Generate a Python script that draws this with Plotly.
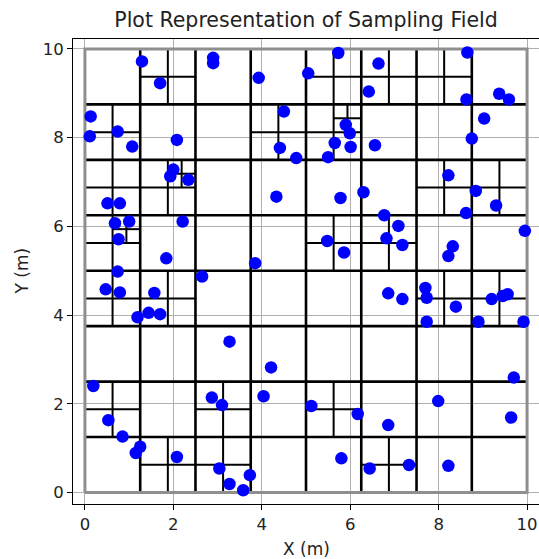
import plotly.graph_objects as go

# ---- data ----
field_size = 10.0
base_n = 8  # 8x8 base cells of 1.25 m
# base cells (i, j) split into 4 (i: x index, j: y index from bottom)
split_cells = [(1, 7), (4, 7), (5, 7), (6, 7),
               (0, 6), (3, 6), (4, 6),
               (0, 5), (1, 5), (6, 5), (7, 5),
               (0, 4), (4, 4), (5, 4),
               (0, 3), (1, 3), (6, 3), (7, 3),
               (0, 1), (2, 1), (4, 1),
               (1, 0), (2, 0), (5, 0)]
# second-level cells (16x16 index) split again
split_subcells = [(3, 11), (1, 9), (9, 13)]

sample_x = [1.29, 2.90, 2.90, 1.70, 3.93, 5.05, 0.13, 0.11, 0.74, 1.07,
            2.08, 4.50, 4.41, 4.78, 2.00, 1.93, 2.34, 4.33, 0.51, 0.79,
            0.68, 1.00, 0.76, 2.21, 1.84, 3.85, 0.74, 0.47, 0.79, 1.57,
            2.65, 1.19, 1.44, 1.70, 3.27, 4.21, 0.19, 2.87, 3.10, 4.04,
            0.53, 0.85, 1.25, 1.15, 2.08, 3.04, 3.73, 3.27, 3.58, 5.73,
            6.64, 6.42, 8.65, 8.63, 9.37, 9.59, 9.03, 5.90, 5.99, 5.65,
            6.01, 5.50, 6.56, 8.75, 8.22, 8.84, 9.30, 8.62, 5.78, 6.30,
            6.77, 7.09, 5.48, 6.82, 7.18, 5.86, 8.32, 8.22, 9.95, 6.86,
            7.18, 7.70, 7.73, 8.39, 9.20, 9.45, 9.56, 7.73, 8.90, 9.92,
            9.70, 5.12, 6.17, 6.86, 7.99, 9.64, 5.80, 6.44, 7.33, 8.22]
sample_y = [9.72, 9.80, 9.68, 9.23, 9.35, 9.45, 8.48, 8.03, 8.14, 7.80,
            7.95, 8.59, 7.77, 7.54, 7.28, 7.13, 7.05, 6.67, 6.52, 6.52,
            6.07, 6.11, 5.71, 6.11, 5.28, 5.17, 4.98, 4.58, 4.51, 4.50,
            4.87, 3.95, 4.05, 4.02, 3.40, 2.82, 2.40, 2.14, 1.97, 2.17,
            1.63, 1.26, 1.03, 0.89, 0.80, 0.54, 0.39, 0.19, 0.05, 9.91,
            9.67, 9.04, 9.92, 8.86, 8.99, 8.86, 8.43, 8.29, 8.10, 7.88,
            7.79, 7.56, 7.83, 7.98, 7.15, 6.80, 6.47, 6.30, 6.64, 6.77,
            6.25, 6.01, 5.67, 5.73, 5.58, 5.41, 5.55, 5.33, 5.90, 4.49,
            4.36, 4.61, 4.39, 4.19, 4.36, 4.43, 4.47, 3.85, 3.85, 3.85,
            2.59, 1.95, 1.77, 1.52, 2.06, 1.69, 0.77, 0.54, 0.62, 0.60]

tick_vals = [0, 2, 4, 6, 8, 10]

# ---- build line segments from the subdivision structure ----
def add_cross(xs, ys, x0, y0, size):
    h = size / 2
    xs += [x0 + h, x0 + h, None, x0, x0 + size, None]
    ys += [y0, y0 + size, None, y0 + h, y0 + h, None]

base = field_size / base_n
main_x, main_y = [], []
for k in range(1, base_n):
    main_x += [k * base, k * base, None, 0, field_size, None]
    main_y += [0, field_size, None, k * base, k * base, None]

sub_x, sub_y = [], []
for (i, j) in split_cells:
    add_cross(sub_x, sub_y, i * base, j * base, base)
half = base / 2
for (si, sj) in split_subcells:
    add_cross(sub_x, sub_y, si * half, sj * half, half)

fig = go.Figure()
fig.add_trace(go.Scatter(x=main_x, y=main_y, mode="lines",
                         line=dict(color="black", width=2.6),
                         hoverinfo="skip", showlegend=False))
fig.add_trace(go.Scatter(x=sub_x, y=sub_y, mode="lines",
                         line=dict(color="black", width=2),
                         hoverinfo="skip", showlegend=False))
fig.add_trace(go.Scatter(x=[0, field_size, field_size, 0, 0],
                         y=[0, 0, field_size, field_size, 0], mode="lines",
                         line=dict(color="#8f8f8f", width=3),
                         hoverinfo="skip", showlegend=False))
fig.add_trace(go.Scatter(x=sample_x, y=sample_y, mode="markers",
                         marker=dict(color="#0000ff", size=12.5,
                                     line=dict(width=0)),
                         showlegend=False))

axis_common = dict(showline=True, mirror=True, linecolor="black", linewidth=1,
                   ticks="outside", ticklen=5, tickcolor="black",
                   showgrid=True, gridcolor="#b0b0b0", gridwidth=1,
                   zeroline=False, tickvals=tick_vals,
                   tickfont=dict(family="DejaVu Sans", size=16.5, color="#222"),
                   layer="above traces")

fig.update_layout(
    width=539, height=559,
    margin=dict(l=73, r=0, t=39, b=55),
    paper_bgcolor="white", plot_bgcolor="white",
    title=dict(text="Plot Representation of Sampling Field",
               x=0.5, xref="paper", y=1 - 20 / 559, yref="container",
               yanchor="middle",
               font=dict(family="DejaVu Sans", size=20.5, color="#222")),
    xaxis=dict(range=[-0.27, 10.27], **axis_common),
    yaxis=dict(range=[-0.26, 10.225], **axis_common),
    annotations=[
        dict(text="X (m)", x=0.5, y=0, xref="paper", yref="paper",
             yanchor="middle", yshift=-45, showarrow=False,
             font=dict(family="DejaVu Sans", size=17, color="#222")),
        dict(text="Y (m)", x=0, y=0.5, xref="paper", yref="paper",
             xanchor="center", xshift=-52, textangle=-90, showarrow=False,
             font=dict(family="DejaVu Sans", size=17, color="#222")),
    ],
)

fig.write_html("out.html")
